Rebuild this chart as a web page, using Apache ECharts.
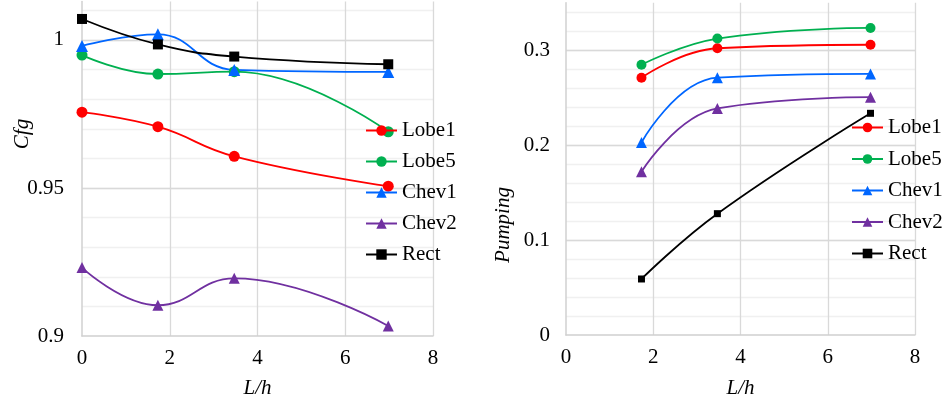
<!DOCTYPE html>
<html>
<head>
<meta charset="utf-8">
<script src="https://cdn.jsdelivr.net/npm/echarts@6/dist/echarts.min.js"></script>
<style>
  html, body { margin: 0; padding: 0; background: #fff; }
  #chart { width: 948px; height: 404px; }
</style>
</head>
<body>
<div id="chart"></div>
<script>
// L/h positions of the measured configurations
const lhCfg = [0, 1.73, 3.47, 6.98];
const lhPump = [1.73, 3.47, 6.98];

// Gross thrust coefficient Cfg
const cfgLobe1 = [0.9756, 0.9707, 0.9607, 0.9506];
const cfgLobe5 = [0.9949, 0.9885, 0.9893, 0.9690];
const cfgChev1 = [0.9980, 1.0019, 0.9899, 0.9892];
const cfgChev2 = [0.9231, 0.9104, 0.9195, 0.9034];
const cfgRect  = [1.0071, 0.9985, 0.9944, 0.9918];

// Pumping
const pumpLobe1 = [0.271, 0.302, 0.3057];
const pumpLobe5 = [0.2846, 0.3122, 0.3234];
const pumpChev1 = [0.2028, 0.271, 0.275];
const pumpChev2 = [0.172, 0.2386, 0.2505];
const pumpRect  = [0.059, 0.1278, 0.2335];

const seriesNames = ['Lobe1', 'Lobe5', 'Chev1', 'Chev2', 'Rect'];
const xTicks = [0, 2, 4, 6, 8];

const colors = {
  Lobe1: '#ff0000',
  Lobe5: '#00b050',
  Chev1: '#0066ff',
  Chev2: '#7030a0',
  Rect: '#000000'
};
const FONT = '"Liberation Serif", "Times New Roman", serif';

function pairs(xs, ys) {
  return xs.map((x, i) => [x, ys[i]]);
}

function lineSeries(name, xs, ys, symbol, size, xi, yi) {
  return {
    type: 'line',
    name: name,
    xAxisIndex: xi,
    yAxisIndex: yi,
    data: pairs(xs, ys),
    smooth: 0.45,
    symbol: symbol,
    symbolSize: size,
    showAllSymbol: true,
    lineStyle: { color: colors[name], width: 1.8 },
    itemStyle: { color: colors[name] },
    emphasis: { disabled: true },
    z: 3
  };
}

function xAxisFor(gi, gap) {
  return {
    type: 'value', gridIndex: gi, min: xTicks[0], max: xTicks[xTicks.length - 1], interval: 2,
    name: 'L/h', nameLocation: 'middle', nameGap: gap,
    nameTextStyle: { fontFamily: FONT, fontSize: 21, fontStyle: 'italic', color: '#000' },
    axisLine: { show: true, lineStyle: { color: '#d0d0d0', width: 1.5 } },
    axisTick: { show: false },
    axisLabel: { margin: 12, fontFamily: FONT, fontSize: 21, color: '#000' },
    splitLine: { show: true, showMinLine: false, lineStyle: { color: '#d9d9d9', width: 1.3 } }
  };
}

function minorYAxis(gi, min, max, step) {
  return {
    type: 'value', gridIndex: gi, min: min, max: max, interval: step, position: 'right',
    axisLine: { show: false }, axisTick: { show: false }, axisLabel: { show: false },
    splitLine: { show: true, showMinLine: false, showMaxLine: false, lineStyle: { color: '#f0f0f0', width: 1.3 } }
  };
}

function mainYAxis(gi, min, max, step, margin) {
  return {
    type: 'value', gridIndex: gi, min: min, max: max, interval: step, position: 'left',
    axisLine: { show: true, lineStyle: { color: '#d0d0d0', width: 1.5 } },
    axisTick: { show: false },
    axisLabel: { margin: margin, fontFamily: FONT, fontSize: 21, color: '#000', showMaxLabel: false },
    splitLine: { show: true, showMinLine: false, showMaxLine: false, lineStyle: { color: '#d9d9d9', width: 1.3 } }
  };
}

function legendFor(left, top, gap, item) {
  return {
    orient: 'vertical', left: left, top: top, itemGap: gap, padding: 0,
    itemWidth: 31, itemHeight: item,
    data: seriesNames,
    selectedMode: false,
    textStyle: { fontFamily: FONT, fontSize: 21, color: '#000' }
  };
}

const chart = echarts.init(document.getElementById('chart'), null, { renderer: 'canvas' });

chart.setOption({
  backgroundColor: '#ffffff',
  animation: false,
  grid: [
    { left: 82, top: 1.5, width: 351, height: 334.5 },
    { left: 566, top: 2.7, width: 349, height: 342.3 }
  ],
  xAxis: [xAxisFor(0, 42), xAxisFor(1, 43)],
  yAxis: [
    minorYAxis(0, 0.9, 1.013, 0.01),
    mainYAxis(0, 0.9, 1.013, 0.05, 18),
    minorYAxis(1, 0, 0.35, 0.02),
    mainYAxis(1, 0, 0.35, 0.1, 16)
  ],
  legend: [
    legendFor(365, 120, 10, 13),
    legendFor(851, 117, 10.5, 12)
  ],
  graphic: [
    {
      type: 'text', x: 22, y: 134, rotation: Math.PI / 2,
      style: { text: 'Cfg', font: 'italic 21px ' + FONT, fill: '#000', align: 'center', verticalAlign: 'middle' }
    },
    {
      type: 'text', x: 503, y: 225, rotation: Math.PI / 2,
      style: { text: 'Pumping', font: 'italic 21px ' + FONT, fill: '#000', align: 'center', verticalAlign: 'middle' }
    }
  ],
  series: [
    lineSeries('Lobe1', lhCfg, cfgLobe1, 'circle', 11, 0, 1),
    lineSeries('Lobe5', lhCfg, cfgLobe5, 'circle', 11, 0, 1),
    lineSeries('Chev1', lhCfg, cfgChev1, 'triangle', 12, 0, 1),
    lineSeries('Chev2', lhCfg, cfgChev2, 'triangle', 11, 0, 1),
    lineSeries('Rect', lhCfg, cfgRect, 'rect', 10, 0, 1),
    lineSeries('Lobe1', lhPump, pumpLobe1, 'circle', 10, 1, 3),
    lineSeries('Lobe5', lhPump, pumpLobe5, 'circle', 10, 1, 3),
    lineSeries('Chev1', lhPump, pumpChev1, 'triangle', 11, 1, 3),
    lineSeries('Chev2', lhPump, pumpChev2, 'triangle', 11, 1, 3),
    lineSeries('Rect', lhPump, pumpRect, 'rect', 7, 1, 3)
  ]
});
</script>
</body>
</html>
